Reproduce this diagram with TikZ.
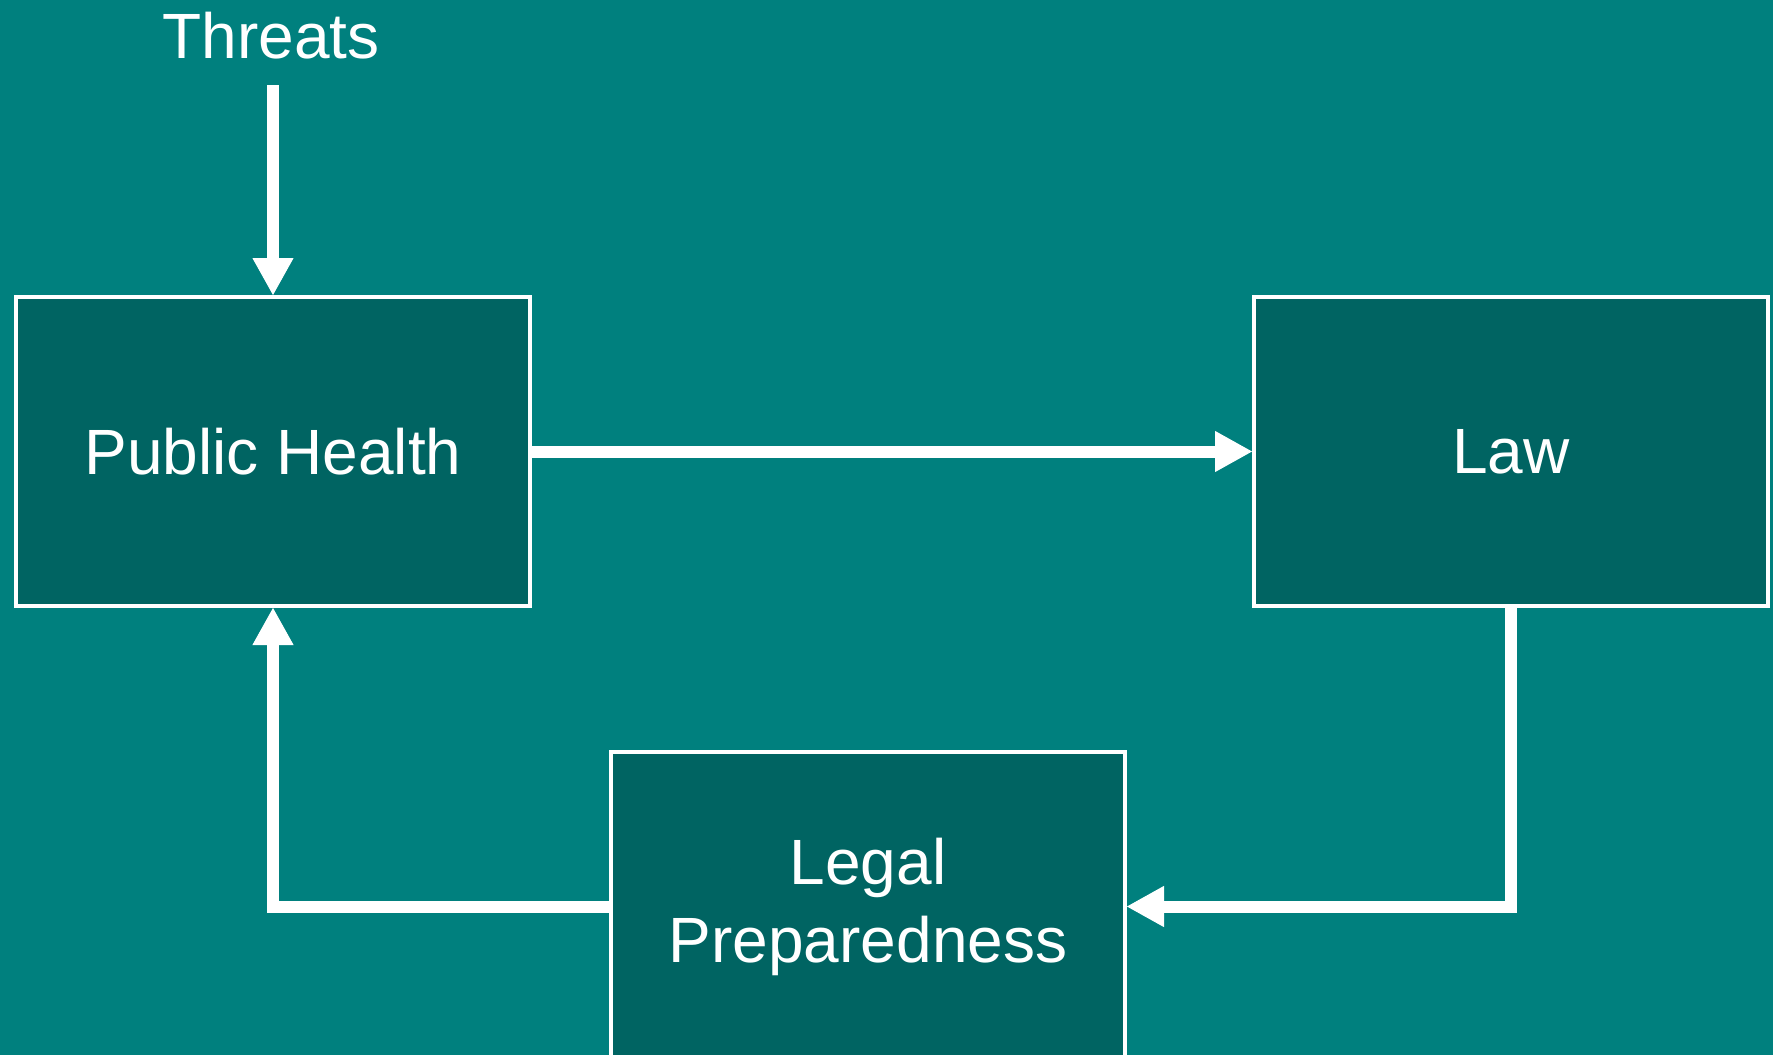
\documentclass[tikz,border=0pt]{standalone}
\usepackage{fontspec}
\setmainfont{Liberation Sans}
\usetikzlibrary{arrows.meta}
\definecolor{bgteal}{RGB}{0,128,126}
\definecolor{boxteal}{RGB}{0,100,98}
\begin{document}
\begin{tikzpicture}[x=1pt,y=-1pt,
  box/.style={draw=white, line width=4pt, fill=boxteal, minimum width=514pt, minimum height=309pt, inner sep=0pt, text=white, font=\fontsize{64}{78}\selectfont, align=center},
  lbl/.style={text=white, font=\fontsize{64}{78}\selectfont, inner sep=0pt},
  conn/.style={draw=white, line width=12pt, line join=miter, -{Triangle[width=41pt,length=37pt,line width=1pt]}}]
\useasboundingbox (0,0) rectangle (1773,1055);
\clip (0,0) rectangle (1773,1055);
\fill[bgteal] (0,0) rectangle (1773,1055);
\node[box] (ph) at (273,451.5) {Public Health};
\node[box] (law) at (1511,451.5) {Law};
\node[box] (legal) at (868,906.5) {Legal\\Preparedness};
\node[lbl] (threats) at (271,36) {Threats};
\coordinate (tstart) at (273,85);
\draw[conn] (tstart) -- (ph.north);
\draw[conn] (ph.east) -- (law.west);
\draw[conn] (law.south) |- (legal.east);
\draw[conn] (legal.west) -| (ph.south);
\end{tikzpicture}
\end{document}
